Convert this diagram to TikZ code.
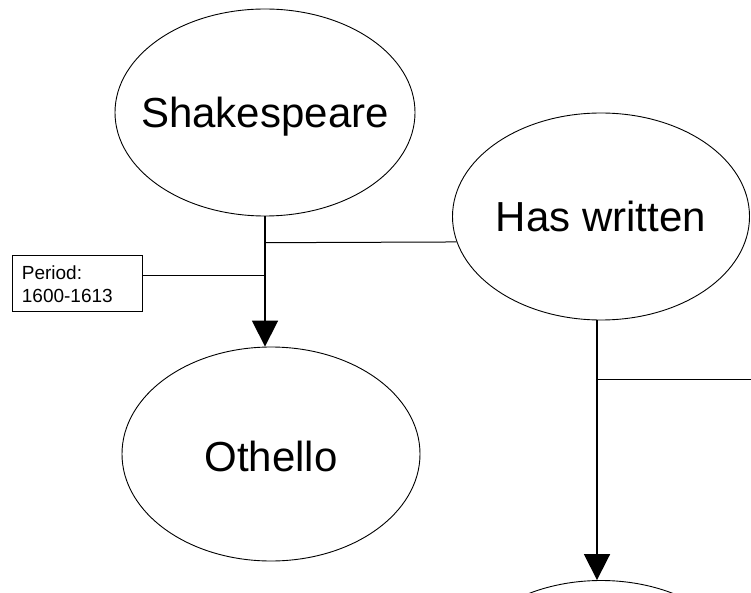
\documentclass[tikz,border=0pt]{standalone}
\usepackage{fontspec}
\setmainfont{Liberation Sans}
\usetikzlibrary{shapes.geometric,arrows.meta}

\tikzset{
  blob/.style={draw, ellipse, line width=0.9pt, inner sep=0pt},
  bigtxt/.style={inner sep=0pt, font=\fontsize{42}{50}\selectfont,
                 text height=30pt, text depth=0pt},
  notebox/.style={draw, line width=0.9pt, inner sep=0pt,
                  minimum width=129.3pt, minimum height=55.3pt},
  notetxt/.style={inner sep=0pt, align=left,
                  font=\fontsize{19}{23.4}\selectfont},
  flow/.style={line width=1.8pt, -{Triangle[width=26pt,length=26pt]}},
  link/.style={line width=1pt}
}

\begin{document}
\begin{tikzpicture}[x=1pt, y=-1pt]
  \clip (0,0) rectangle (751,593);

  % concepts
  \node[blob, minimum width=300pt, minimum height=207pt] (sh) at (265,112.5) {};
  \node[bigtxt] (shl) at (sh.center) {Shakespeare};

  \node[blob, minimum width=297pt, minimum height=207pt] (hw) at (601,216.5) {};
  \node[bigtxt] (hwl) at (hw.center) {Has written};

  \node[blob, minimum width=298pt, minimum height=214pt] (ot) at (271,454) {};
  \node[bigtxt] (otl) at ([yshift=-2pt]ot.center) {Othello};

  \node[blob, minimum width=297pt, minimum height=207pt] (nx) at (601,684) {};

  % annotation box (the base anchor sits on the last line)
  \node[notebox] (pb) at (77.4,283.3) {};
  \node[notetxt, anchor=base west] (pbl) at (21.7,302.7) {Period:\\1600-1613};

  % junction points
  \coordinate (j1) at (265,242.7);
  \coordinate (j2) at (265,275.3);
  \coordinate (j3) at (597,379);
  \coordinate (rim) at (760,379);

  % relations
  \draw[flow] (sh.south) -- (sh.south |- ot.north);
  \draw[link] (j1) -- (hw.190.3);
  \draw[link] (pb.east |- j2) -- (j2);

  \draw[flow] (j3 |- hw.south) -- (j3 |- nx.north);
  \draw[link] (j3) -- (rim);
\end{tikzpicture}
\end{document}
